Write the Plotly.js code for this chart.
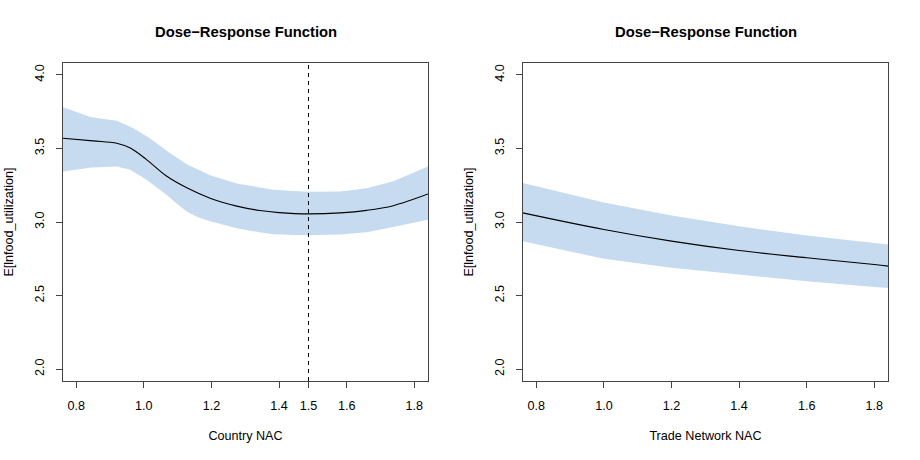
<!DOCTYPE html>
<html>
<head>
<meta charset="utf-8">
<script src="https://cdn.plot.ly/plotly-3.0.1.min.js"></script>
<style>html,body{margin:0;padding:0;background:#fff;}#chart{width:920px;height:460px;}</style>
</head>
<body>
<div id="chart"></div>
<script>
// Left panel: Country NAC
const countryX      = [0.761, 0.850, 0.920, 0.960, 1.008, 1.067, 1.127, 1.196, 1.275, 1.343, 1.400, 1.487, 1.581, 1.659, 1.738, 1.8405];
const countryFit    = [3.569, 3.551, 3.535, 3.502, 3.424, 3.312, 3.232, 3.162, 3.108, 3.078, 3.064, 3.055, 3.062, 3.079, 3.111, 3.190];
const countryUpperX = [0.761, 0.845, 0.920, 0.969, 1.018, 1.077, 1.127, 1.196, 1.275, 1.343, 1.383, 1.482, 1.581, 1.659, 1.738, 1.8405];
const countryUpper  = [3.779, 3.712, 3.687, 3.637, 3.569, 3.468, 3.392, 3.318, 3.262, 3.234, 3.219, 3.206, 3.208, 3.229, 3.276, 3.377];
const countryLowerX = [0.761, 0.845, 0.920, 0.960, 1.008, 1.067, 1.097, 1.127, 1.160, 1.196, 1.275, 1.343, 1.383, 1.482, 1.581, 1.659, 1.738, 1.8405];
const countryLower  = [3.343, 3.370, 3.377, 3.355, 3.287, 3.185, 3.125, 3.072, 3.033, 3.005, 2.958, 2.930, 2.917, 2.910, 2.915, 2.931, 2.966, 3.016];
const countryCut = 1.487;

// Right panel: Trade Network NAC
const tradeX     = [0.7597, 1.000, 1.200, 1.400, 1.600, 1.800, 1.8414];
const tradeFit   = [3.062, 2.949, 2.870, 2.806, 2.757, 2.711, 2.700];
const tradeUpper = [3.265, 3.133, 3.045, 2.971, 2.908, 2.858, 2.847];
const tradeLower = [2.870, 2.750, 2.689, 2.644, 2.598, 2.558, 2.551];

// Tick labels
const xTickVals1 = [0.8, 1.0, 1.2, 1.4, countryCut, 1.6, 1.8];
const xTickText1 = ["0.8", "1.0", "1.2", "1.4", "1.5", "1.6", "1.8"];
const xTickVals2 = [0.8, 1.0, 1.2, 1.4, 1.6, 1.8];
const xTickText2 = ["0.8", "1.0", "1.2", "1.4", "1.6", "1.8"];
const yTickVals = [2.0, 2.5, 3.0, 3.5, 4.0];
const yTickText = ["2.0", "2.5", "3.0", "3.5", "4.0"];

const titleText = "Dose\u2212Response Function";
const yTitle = "E[lnfood_utilization]";

const bandColor = "#C6DBEF";
const FONT = "Liberation Sans, Arial, Helvetica, sans-serif";
const FS = 12.6;

function poly(xu, yu, xl, yl, xa, ya) {
  const xs = xu.concat(xl.slice().reverse());
  const ys = yu.concat(yl.slice().reverse());
  return {x: xs, y: ys, xaxis: xa, yaxis: ya, mode: "lines", type: "scatter",
          line: {width: 0, color: bandColor},
          fill: "toself", fillcolor: bandColor, hoverinfo: "skip", showlegend: false};
}
function fitLine(xs, ys, xa, ya) {
  return {x: xs, y: ys, xaxis: xa, yaxis: ya, mode: "lines", type: "scatter",
          line: {width: 1.1, color: "#000", shape: "spline", smoothing: 1},
          hoverinfo: "skip", showlegend: false};
}

const data = [
  poly(countryUpperX, countryUpper, countryLowerX, countryLower, "x", "y"),
  fitLine(countryX, countryFit, "x", "y"),
  poly(tradeX, tradeUpper, tradeX, tradeLower, "x2", "y2"),
  fitLine(tradeX, tradeFit, "x2", "y2")
];

const axisCommon = {
  showline: true, mirror: true, linecolor: "#444", linewidth: 1,
  ticks: "outside", ticklen: 6, tickwidth: 1, tickcolor: "#444",
  showgrid: false, zeroline: false, fixedrange: true,
  tickfont: {family: FONT, size: FS, color: "#000"},
  automargin: false
};

const layout = {
  width: 920, height: 460,
  margin: {l: 0, r: 0, t: 0, b: 0},
  paper_bgcolor: "#fff", plot_bgcolor: "#fff",
  font: {family: FONT, color: "#000"},
  showlegend: false,
  xaxis: Object.assign({}, axisCommon, {
    domain: [63/920, 428/920], range: [0.761, 1.8405], anchor: "y",
    tickmode: "array", tickvals: xTickVals1, ticktext: xTickText1,
    ticklabelstandoff: 7,
    title: {text: "Country NAC", font: {family: FONT, size: FS, color: "#000"}, standoff: 19}
  }),
  yaxis: Object.assign({}, axisCommon, {
    domain: [79/460, 397/460], range: [1.92, 4.08], anchor: "x",
    tickmode: "array", tickvals: yTickVals, ticktext: yTickText, tickangle: -90,
    ticklabelstandoff: 7,
    title: {text: yTitle, font: {family: FONT, size: FS, color: "#000"}, standoff: 16}
  }),
  xaxis2: Object.assign({}, axisCommon, {
    domain: [522.7/920, 888.3/920], range: [0.7597, 1.8414], anchor: "y2",
    tickmode: "array", tickvals: xTickVals2, ticktext: xTickText2,
    ticklabelstandoff: 7,
    title: {text: "Trade Network NAC", font: {family: FONT, size: FS, color: "#000"}, standoff: 19}
  }),
  yaxis2: Object.assign({}, axisCommon, {
    domain: [79/460, 397/460], range: [1.92, 4.08], anchor: "x2",
    tickmode: "array", tickvals: yTickVals, ticktext: yTickText, tickangle: -90,
    ticklabelstandoff: 7,
    title: {text: yTitle, font: {family: FONT, size: FS, color: "#000"}, standoff: 16}
  }),
  shapes: [{
    type: "line", xref: "x", yref: "y domain", x0: countryCut, x1: countryCut, y0: 0, y1: 1,
    line: {color: "#000", width: 1, dash: "4px,4px"}
  }],
  annotations: [
    {text: "<b>" + titleText + "</b>", xref: "paper", yref: "paper",
     x: 245.5/920, y: (460-32)/460, xanchor: "center", yanchor: "middle", showarrow: false,
     font: {family: FONT, size: 14.8, color: "#000"}},
    {text: "<b>" + titleText + "</b>", xref: "paper", yref: "paper",
     x: 705.5/920, y: (460-32)/460, xanchor: "center", yanchor: "middle", showarrow: false,
     font: {family: FONT, size: 14.8, color: "#000"}}
  ]
};

Plotly.newPlot("chart", data, layout, {staticPlot: true, displayModeBar: false});
</script>
</body>
</html>
